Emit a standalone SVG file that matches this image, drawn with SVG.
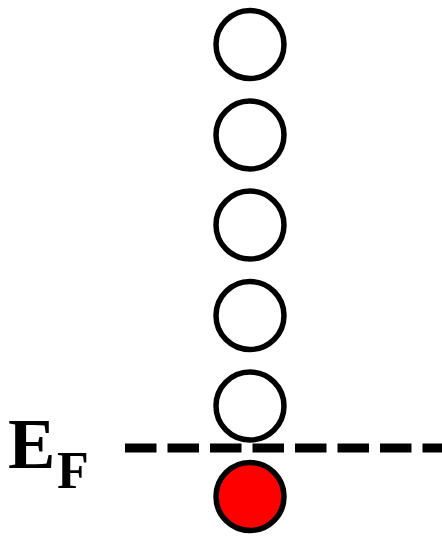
<svg xmlns="http://www.w3.org/2000/svg" width="442" height="536" viewBox="0 0 442 536">
<style>
.st{stroke:#000;stroke-width:5.5}
.e{fill:#fff}
.f{fill:#ff0000}
.t{font-family:"Liberation Serif","Times New Roman",serif;font-weight:bold;fill:#000}
</style>
<rect width="442" height="536" fill="#fff"/>
<g id="connectors">
<line x1="125" y1="448" x2="442" y2="448" stroke="#000" stroke-width="9" stroke-dasharray="31.5 11"/>
</g>
<g id="level1"><circle class="st e" cx="250" cy="44.5" r="34"/></g>
<g id="level2"><circle class="st e" cx="250" cy="135" r="34"/></g>
<g id="level3"><circle class="st e" cx="250" cy="225" r="34"/></g>
<g id="level4"><circle class="st e" cx="250" cy="315.5" r="34"/></g>
<g id="level5"><circle class="st e" cx="250" cy="406" r="34"/></g>
<g id="level6"><circle class="st f" cx="250" cy="496.5" r="34"/></g>
<g id="label"><text class="t" x="8" y="468" font-size="71">E<tspan font-size="52" x="57" y="488">F</tspan></text></g>
</svg>
